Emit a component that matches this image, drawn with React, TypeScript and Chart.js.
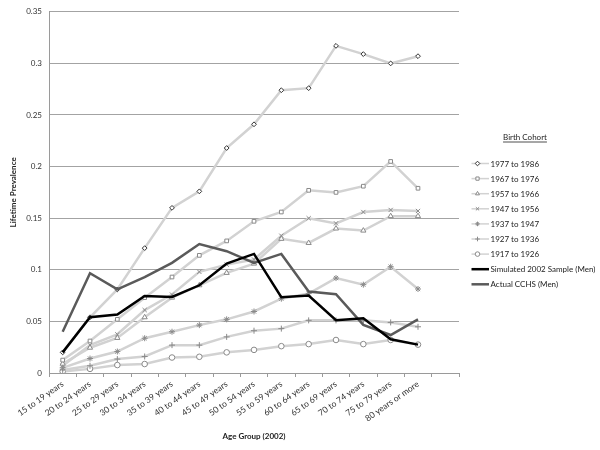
import { useEffect, useRef } from "react";
import { Chart, registerables } from "chart.js";
import { drawPoint } from "chart.js/helpers";

Chart.register(...registerables);

const ageGroups = [
  "15 to 19 years", "20 to 24 years", "25 to 29 years", "30 to 34 years",
  "35 to 39 years", "40 to 44 years", "45 to 49 years", "50 to 54 years",
  "55 to 59 years", "60 to 64 years", "65 to 69 years", "70 to 74 years",
  "75 to 79 years", "80 years or more", "",
];

const cohort1977 = [0.02, 0.054, 0.081, 0.121, 0.160, 0.176, 0.218, 0.241, 0.274, 0.276, 0.317, 0.309, 0.300, 0.307];
const cohort1967 = [0.0125, 0.031, 0.052, 0.073, 0.093, 0.114, 0.128, 0.147, 0.156, 0.177, 0.175, 0.181, 0.205, 0.179];
const cohort1957 = [0.009, 0.0245, 0.034, 0.054, 0.073, 0.085, 0.097, 0.106, 0.130, 0.126, 0.140, 0.138, 0.152, 0.152];
const cohort1947 = [0.007, 0.027, 0.0375, 0.061, 0.076, 0.098, 0.105, 0.110, 0.133, 0.150, 0.145, 0.156, 0.158, 0.157];
const cohort1937 = [0.005, 0.014, 0.0208, 0.0337, 0.040, 0.0464, 0.052, 0.0596, 0.072, 0.077, 0.092, 0.0856, 0.103, 0.0814];
const cohort1927 = [0.003, 0.007, 0.0135, 0.016, 0.027, 0.027, 0.035, 0.041, 0.043, 0.051, 0.051, 0.051, 0.049, 0.0448];
const cohort1917 = [0.0015, 0.004, 0.0077, 0.0087, 0.015, 0.0157, 0.020, 0.0224, 0.026, 0.028, 0.032, 0.028, 0.032, 0.0275];
const simulated2002 = [0.020, 0.054, 0.0567, 0.0747, 0.0737, 0.085, 0.106, 0.1154, 0.0735, 0.075, 0.0512, 0.053, 0.0327, 0.0275];
const actualCCHS = [0.040, 0.0967, 0.081, 0.093, 0.1067, 0.125, 0.118, 0.1067, 0.1154, 0.079, 0.0764, 0.0466, 0.0368, 0.052];

const yTickValues = [0, 0.05, 0.1, 0.15, 0.2, 0.25, 0.3, 0.35];
const yTickLabels = ["0", "0.05", "0.1", "0.15", "0.2", "0.25", "0.3", "0.35"];

const FONT = "Lato, 'Open Sans', sans-serif";

const cohortLine = "#d2d2d2";

function cohort(label: string, data: number[], pointStyle: string, markerColor: string, radius = 2.6) {
  return {
    label,
    data,
    borderColor: cohortLine,
    backgroundColor: cohortLine,
    borderWidth: 2.5,
    pointStyle,
    pointRadius: radius,
    pointBorderWidth: 1,
    pointBorderColor: markerColor,
    pointBackgroundColor: "#ffffff",
    tension: 0,
    order: 1,
  };
}

const legendPlugin = {
  id: "excelLegend",
  afterDraw(chart: any) {
    const ctx = chart.ctx;
    ctx.save();
    ctx.font = `8px ${FONT}`;
    ctx.fillStyle = "#222";
    ctx.textBaseline = "middle";
    ctx.textAlign = "center";
    const title = "Birth Cohort";
    const tx = 525;
    const ty = 137;
    ctx.fillText(title, tx, ty);
    const tw = ctx.measureText(title).width;
    ctx.strokeStyle = "#222";
    ctx.lineWidth = 0.8;
    ctx.beginPath();
    ctx.moveTo(tx - tw / 2, ty + 5);
    ctx.lineTo(tx + tw / 2, ty + 5);
    ctx.stroke();

    ctx.textAlign = "left";
    chart.data.datasets.forEach((ds: any, i: number) => {
      const y = 163.5 + i * 15.1;
      ctx.strokeStyle = ds.borderColor;
      ctx.lineWidth = ds.pointRadius > 0 ? 1.5 : ds.borderWidth;
      ctx.beginPath();
      ctx.moveTo(471.5, y);
      ctx.lineTo(489, y);
      ctx.stroke();
      if (ds.pointRadius > 0) {
        ctx.strokeStyle = ds.pointBorderColor;
        ctx.fillStyle = ds.pointBackgroundColor;
        ctx.lineWidth = 1;
        drawPoint(ctx, { pointStyle: ds.pointStyle, radius: 2.3, borderWidth: 1, rotation: 0 }, 477.5, y);
      }
      ctx.fillStyle = "#222";
      ctx.fillText(ds.label, 490.5, y + 0.5);
    });
    ctx.restore();
  },
};

export default function App() {
  const ref = useRef<HTMLCanvasElement | null>(null);

  useEffect(() => {
    document.body.style.margin = "0";
    if (!ref.current) return;
    const chart = new Chart(ref.current, {
      type: "line",
      data: {
        labels: ageGroups,
        datasets: [
          cohort("1977 to 1986", cohort1977, "rectRot", "#333333", 2.4),
          cohort("1967 to 1976", cohort1967, "rect", "#8a8a8a", 2.6),
          cohort("1957 to 1966", cohort1957, "triangle", "#8a8a8a", 3),
          cohort("1947 to 1956", cohort1947, "crossRot", "#8a8a8a", 3),
          cohort("1937 to 1947", cohort1937, "star", "#8a8a8a", 3),
          cohort("1927 to 1936", cohort1927, "cross", "#8a8a8a", 3),
          cohort("1917 to 1926", cohort1917, "circle", "#8a8a8a", 2.8),
          {
            label: "Simulated 2002 Sample (Men)",
            data: simulated2002,
            borderColor: "#000000",
            backgroundColor: "#000000",
            borderWidth: 2.5,
            pointRadius: 0,
            tension: 0,
            order: 0,
          },
          {
            label: "Actual CCHS (Men)",
            data: actualCCHS,
            borderColor: "#5a5a5a",
            backgroundColor: "#5a5a5a",
            borderWidth: 2.5,
            pointRadius: 0,
            tension: 0,
            order: 0,
          },
        ] as any,
      },
      options: {
        responsive: false,
        animation: false,
        devicePixelRatio: 1,
        layout: { padding: { top: 9, right: 141, left: 0, bottom: 0 } },
        plugins: {
          legend: { display: false },
          tooltip: { enabled: false },
        },
        scales: {
          x: {
            type: "category",
            offset: true,
            grid: {
              display: true,
              drawOnChartArea: false,
              drawTicks: true,
              tickLength: 4,
              offset: true,
              color: "#9a9a9a",
            },
            border: { display: true, color: "#9a9a9a" },
            ticks: {
              autoSkip: false,
              minRotation: 35,
              maxRotation: 35,
              padding: 2,
              color: "#333",
              font: { family: FONT, size: 8.5 },
            },
            title: {
              display: true,
              text: "Age Group (2002)",
              color: "#222",
              font: { family: FONT, size: 8, weight: "bold" },
              padding: { top: 0, bottom: 9 },
            },
            afterFit: (s: any) => {
              s.height = 77;
            },
          },
          y: {
            min: 0,
            max: 0.35,
            afterBuildTicks: (s: any) => {
              s.ticks = yTickValues.map((v) => ({ value: v }));
            },
            ticks: {
              padding: 7,
              color: "#333",
              font: { family: FONT, size: 8 },
              callback: (v: any) => {
                const idx = yTickValues.findIndex((t) => Math.abs(t - Number(v)) < 1e-9);
                return idx >= 0 ? yTickLabels[idx] : "";
              },
            },
            grid: { color: "#a3a3a3", drawTicks: false, lineWidth: 1 },
            border: { display: true, color: "#9a9a9a" },
            title: {
              display: true,
              text: "Lifetime Prevalence",
              color: "#222",
              font: { family: FONT, size: 8, weight: "bold" },
              padding: { top: 9, bottom: 0 },
            },
            afterFit: (s: any) => {
              s.width = 49;
            },
          },
        },
      } as any,
      plugins: [legendPlugin],
    });
    return () => chart.destroy();
  }, []);

  return (
    <div style={{ width: 600, height: 450, background: "#fff" }}>
      <canvas ref={ref} width={600} height={450} />
    </div>
  );
}
